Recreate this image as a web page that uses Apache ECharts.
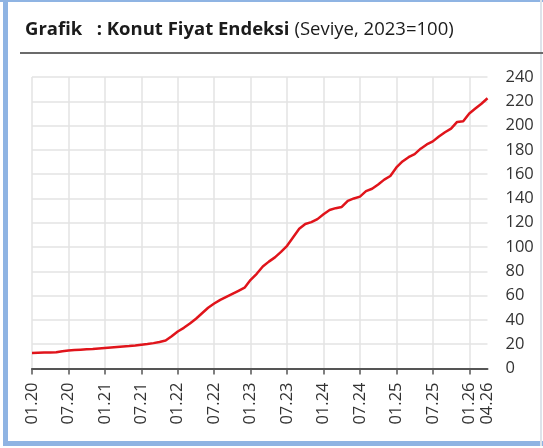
<!DOCTYPE html>
<html>
<head>
<meta charset="utf-8">
<script src="https://cdn.jsdelivr.net/npm/echarts@6/dist/echarts.min.js"></script>
<style>
html,body{margin:0;padding:0;background:#fff;}
#c{width:543px;height:448px;}
</style>
</head>
<body>
<div id="c"></div>
<script>
// Monthly categories 01.20 .. 04.26
const categories = (function(){
  const out = [];
  for (let y = 20; y <= 26; y++) {
    for (let m = 1; m <= 12; m++) {
      if (y === 26 && m > 4) break;
      out.push((m < 10 ? '0' + m : '' + m) + '.' + y);
    }
  }
  return out;
})();

// Konut Fiyat Endeksi (2023=100)
const kfe = [
  12.8, 13.0, 13.1, 13.2, 13.4, 14.2, 14.9, 15.2, 15.5, 15.8, 16.1, 16.5,
  16.9, 17.3, 17.7, 18.1, 18.5, 19.0, 19.6, 20.2, 20.9, 21.8, 23.0, 26.5,
  30.5, 33.5, 37.0, 41.0, 45.5, 50.0, 53.5, 56.5, 59.0, 61.5, 64.0, 66.5,
  73.0, 78.0, 84.0, 88.0, 91.5, 96.0, 101.0, 108.0, 115.0, 119.0, 120.5, 123.0,
  127.0, 130.5, 132.0, 133.0, 138.0, 140.0, 141.5, 146.0, 148.0, 151.5, 155.5, 158.5,
  165.5, 170.5, 174.0, 176.5, 181.0, 184.5, 187.0, 191.0, 194.5, 197.5, 203.0, 203.5,
  210.0, 214.0, 218.0, 222.5
];

const yTicks = [0, 20, 40, 60, 80, 100, 120, 140, 160, 180, 200, 220, 240];

const titleBold = 'Grafik   : Konut Fiyat Endeksi';
const titleNormal = '(Seviye, 2023=100)';

const lastIdx = categories.length - 1;
const chart = echarts.init(document.getElementById('c'), null, {renderer: 'canvas'});
const FONT = '"Open Sans", "Noto Sans", sans-serif';

chart.setOption({
  backgroundColor: '#ffffff',
  animation: false,
  title: {
    left: 20, top: 15,
    text: '{b|' + titleBold + '} {n|' + titleNormal + '}',
    textStyle: {
      rich: {
        b: {fontFamily: FONT, fontSize: 18.5, fontWeight: 'bold', color: '#1b1b1b'},
        n: {fontFamily: FONT, fontSize: 18.5, fontWeight: 'normal', color: '#1b1b1b'}
      }
    }
  },
  graphic: [
    {type: 'rect', shape: {x: 0, y: 0, width: 543, height: 2}, style: {fill: '#8fb4e3'}, silent: true},
    {type: 'rect', shape: {x: 3, y: 0, width: 5, height: 446}, style: {fill: '#8fb4e3'}, silent: true},
    {type: 'rect', shape: {x: 3, y: 441, width: 540, height: 5}, style: {fill: '#8fb4e3'}, silent: true},
    {type: 'rect', shape: {x: 540, y: 0, width: 2, height: 446}, style: {fill: '#dde3ea'}, silent: true},
    {type: 'line', shape: {x1: 20, y1: 53, x2: 543, y2: 53}, style: {stroke: '#6b6b6b', lineWidth: 2}, silent: true}
  ],
  grid: {left: 32, right: 55.5, top: 77, bottom: 79.5, containLabel: false},
  xAxis: {
    type: 'category',
    data: categories,
    boundaryGap: false,
    axisLine: {show: true, lineStyle: {color: '#555', width: 2}},
    axisTick: {show: true, length: 6, lineStyle: {color: '#555', width: 1.5},
      interval: function (i) { return i % 6 === 0; }},
    axisLabel: {
      rotate: 90, margin: 14, color: '#333', fontFamily: FONT, fontSize: 16.5,
      interval: function (i) { return i % 6 === 0 || i === lastIdx; }
    },
    splitLine: {show: true, lineStyle: {color: '#e3e3e3', width: 1.5},
      interval: function (i) { return i % 6 === 0; }}
  },
  yAxis: {
    type: 'value',
    position: 'right',
    min: yTicks[0], max: yTicks[yTicks.length - 1], interval: 20,
    axisLine: {show: false},
    axisTick: {show: false},
    axisLabel: {margin: 18, color: '#333', fontFamily: FONT, fontSize: 16.5},
    splitLine: {show: true, lineStyle: {color: '#e3e3e3', width: 1.5}}
  },
  series: [{
    type: 'line',
    data: kfe,
    showSymbol: false,
    symbol: 'none',
    lineStyle: {color: '#e0141b', width: 2.5},
    z: 5
  }]
});
</script>
</body>
</html>
